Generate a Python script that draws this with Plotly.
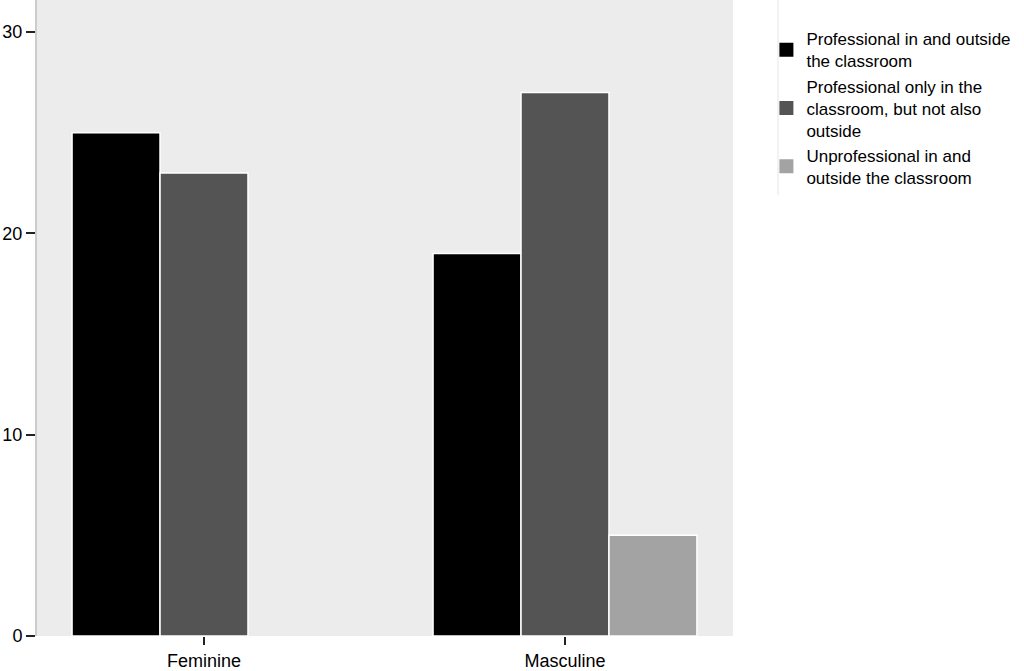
import plotly.graph_objects as go

categories = ["Feminine", "Masculine"]
series_names = [
    "Professional in and outside<br>the classroom",
    "Professional only in the<br>classroom, but not also<br>outside",
    "Unprofessional in and<br>outside the classroom",
]
values_prof_both = [25, 19]
values_prof_class = [23, 27]
values_unprof = [0, 5]
colors = ["#000000", "#545454", "#a3a3a3"]
y_ticks = [0, 10, 20, 30]

fig = go.Figure()
for name, vals, col in zip(series_names, [values_prof_both, values_prof_class, values_unprof], colors):
    fig.add_trace(go.Bar(
        x=categories, y=vals, name=name, showlegend=False,
        marker=dict(color=col, line=dict(color="#ffffff",
                                         width=[1.5 if v > 0 else 0 for v in vals])),
    ))
# legend entries with larger square swatches
for name, col in zip(series_names, colors):
    fig.add_trace(go.Scatter(
        x=[None], y=[None], mode="markers", name=name,
        marker=dict(symbol="square", size=14, color=col),
    ))

fig.update_layout(
    width=1024, height=671,
    barmode="group", bargap=0.269, bargroupgap=0,
    plot_bgcolor="#ececec", paper_bgcolor="#ffffff",
    margin=dict(l=37, r=291, t=0, b=35, autoexpand=False),
    font=dict(family="Liberation Sans, Arial, sans-serif", size=18, color="#000000"),
    showlegend=True,
    legend=dict(
        x=1.048, xanchor="left", y=0.83, yanchor="middle",
        font=dict(size=17), tracegroupgap=0, itemwidth=30,
        bgcolor="rgba(0,0,0,0)",
    ),
    xaxis=dict(
        range=[-0.4626, 1.4654], showgrid=False, showline=False, zeroline=False,
        ticks="outside", ticklen=8, tickwidth=2, tickcolor="#222222",
    ),
    yaxis=dict(
        range=[0, 31.59], tickvals=y_ticks, showgrid=False, zeroline=False,
        showline=True, linecolor="#cccccc", linewidth=2,
        ticks="outside", ticklen=9, tickwidth=2, tickcolor="#222222",
    ),
    shapes=[dict(type="line", xref="paper", yref="paper",
                 x0=1.0647, x1=1.0647, y0=0.693, y1=1.0,
                 line=dict(color="#e6e6e6", width=1))],
)

fig.write_html("out.html", config={"displayModeBar": False},
               post_script="document.body.style.margin='0';")
